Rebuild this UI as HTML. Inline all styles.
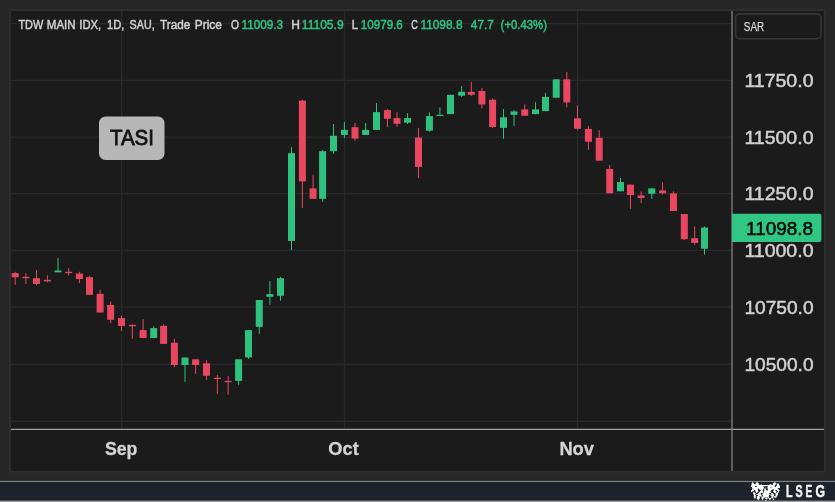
<!DOCTYPE html>
<html lang="en"><head><meta charset="utf-8"><title>TASI chart</title>
<style>
html,body{margin:0;padding:0;background:#262626;}
body{width:835px;height:502px;overflow:hidden;position:relative;font-family:"Liberation Sans",sans-serif;}
svg{position:absolute;left:0;top:0;display:block;}
text{font-family:"Liberation Sans",sans-serif;}
</style></head><body>
<svg width="835" height="502" viewBox="0 0 835 502">
<rect x="0" y="0" width="835" height="502" fill="#262626"/>
<rect x="9" y="9" width="816.9" height="463.8" fill="#2e2e2e"/>
<rect x="11" y="11" width="812.9" height="459.9" fill="#1b1b1b"/>
<rect x="11" y="22.90" width="721" height="1.4" fill="#28292d"/>
<rect x="11" y="79.70" width="721" height="1.4" fill="#28292d"/>
<rect x="11" y="136.50" width="721" height="1.4" fill="#28292d"/>
<rect x="11" y="192.90" width="721" height="1.4" fill="#28292d"/>
<rect x="11" y="249.70" width="721" height="1.4" fill="#28292d"/>
<rect x="11" y="306.30" width="721" height="1.4" fill="#28292d"/>
<rect x="11" y="363.60" width="721" height="1.4" fill="#28292d"/>
<rect x="11" y="420.60" width="721" height="1.4" fill="#28292d"/>
<rect x="120.90" y="11" width="1.4" height="418" fill="#28292d"/>
<rect x="343.80" y="11" width="1.4" height="418" fill="#28292d"/>
<rect x="576.80" y="11" width="1.4" height="418" fill="#28292d"/>
<rect x="14.70" y="271.80" width="1" height="13.10" fill="#e8475f"/>
<rect x="11.70" y="273.10" width="7" height="4.20" fill="#e8475f"/>
<rect x="25.40" y="273.10" width="1" height="10.90" fill="#e8475f"/>
<rect x="22.40" y="276.80" width="7" height="1.40" fill="#e8475f"/>
<rect x="36.00" y="270.10" width="1" height="15.10" fill="#e8475f"/>
<rect x="33.00" y="278.20" width="7" height="5.80" fill="#e8475f"/>
<rect x="46.90" y="275.20" width="1" height="7.00" fill="#e8475f"/>
<rect x="43.90" y="279.80" width="7" height="1.60" fill="#e8475f"/>
<rect x="57.50" y="257.90" width="1" height="14.40" fill="#2ec27e"/>
<rect x="54.50" y="270.50" width="7" height="1.80" fill="#2ec27e"/>
<rect x="68.20" y="268.10" width="1" height="7.40" fill="#e8475f"/>
<rect x="65.20" y="271.80" width="7" height="1.30" fill="#e8475f"/>
<rect x="78.90" y="271.80" width="1" height="11.20" fill="#e8475f"/>
<rect x="75.90" y="273.50" width="7" height="5.50" fill="#e8475f"/>
<rect x="89.00" y="276.00" width="1" height="18.80" fill="#e8475f"/>
<rect x="86.00" y="277.20" width="7" height="17.60" fill="#e8475f"/>
<rect x="99.60" y="289.90" width="1" height="22.60" fill="#e8475f"/>
<rect x="96.60" y="293.90" width="7" height="18.60" fill="#e8475f"/>
<rect x="110.15" y="301.60" width="1" height="21.50" fill="#e8475f"/>
<rect x="107.15" y="305.00" width="7" height="14.80" fill="#e8475f"/>
<rect x="121.00" y="315.90" width="1" height="15.00" fill="#e8475f"/>
<rect x="118.00" y="318.10" width="7" height="7.80" fill="#e8475f"/>
<rect x="131.80" y="324.30" width="1" height="14.50" fill="#e8475f"/>
<rect x="128.80" y="324.90" width="7" height="1.40" fill="#e8475f"/>
<rect x="142.60" y="319.20" width="1" height="18.80" fill="#e8475f"/>
<rect x="139.60" y="330.10" width="7" height="7.90" fill="#e8475f"/>
<rect x="153.20" y="326.30" width="1" height="11.70" fill="#2ec27e"/>
<rect x="150.20" y="328.10" width="7" height="9.90" fill="#2ec27e"/>
<rect x="163.10" y="324.30" width="1" height="19.60" fill="#e8475f"/>
<rect x="160.10" y="325.90" width="7" height="18.00" fill="#e8475f"/>
<rect x="173.90" y="338.80" width="1" height="28.20" fill="#e8475f"/>
<rect x="170.90" y="342.70" width="7" height="22.30" fill="#e8475f"/>
<rect x="184.50" y="357.50" width="1" height="24.30" fill="#2ec27e"/>
<rect x="181.50" y="357.50" width="7" height="7.50" fill="#2ec27e"/>
<rect x="195.15" y="359.30" width="1" height="14.70" fill="#e8475f"/>
<rect x="192.15" y="359.30" width="7" height="5.70" fill="#e8475f"/>
<rect x="205.95" y="360.10" width="1" height="19.80" fill="#e8475f"/>
<rect x="202.95" y="363.30" width="7" height="12.50" fill="#e8475f"/>
<rect x="216.85" y="375.00" width="1" height="18.80" fill="#e8475f"/>
<rect x="213.85" y="377.70" width="7" height="1.30" fill="#e8475f"/>
<rect x="227.60" y="376.10" width="1" height="18.50" fill="#e8475f"/>
<rect x="224.60" y="380.90" width="7" height="1.30" fill="#e8475f"/>
<rect x="238.10" y="359.30" width="1" height="25.50" fill="#2ec27e"/>
<rect x="235.10" y="359.30" width="7" height="21.60" fill="#2ec27e"/>
<rect x="247.95" y="330.10" width="1" height="28.80" fill="#2ec27e"/>
<rect x="244.95" y="330.10" width="7" height="27.30" fill="#2ec27e"/>
<rect x="258.75" y="300.00" width="1" height="33.80" fill="#2ec27e"/>
<rect x="255.75" y="300.00" width="7" height="26.90" fill="#2ec27e"/>
<rect x="269.40" y="281.00" width="1" height="23.80" fill="#2ec27e"/>
<rect x="266.40" y="294.10" width="7" height="2.70" fill="#2ec27e"/>
<rect x="280.00" y="276.80" width="1" height="24.00" fill="#2ec27e"/>
<rect x="277.00" y="278.20" width="7" height="17.60" fill="#2ec27e"/>
<rect x="291.00" y="147.30" width="1" height="102.70" fill="#2ec27e"/>
<rect x="288.00" y="153.20" width="7" height="87.70" fill="#2ec27e"/>
<rect x="301.90" y="99.60" width="1" height="108.50" fill="#e8475f"/>
<rect x="298.90" y="100.60" width="7" height="80.80" fill="#e8475f"/>
<rect x="312.60" y="174.70" width="1" height="24.10" fill="#e8475f"/>
<rect x="309.60" y="188.40" width="7" height="10.40" fill="#e8475f"/>
<rect x="322.10" y="150.00" width="1" height="51.90" fill="#2ec27e"/>
<rect x="319.10" y="151.20" width="7" height="47.60" fill="#2ec27e"/>
<rect x="333.00" y="124.00" width="1" height="29.70" fill="#2ec27e"/>
<rect x="330.00" y="135.80" width="7" height="15.40" fill="#2ec27e"/>
<rect x="343.90" y="121.90" width="1" height="16.20" fill="#2ec27e"/>
<rect x="340.90" y="129.90" width="7" height="5.00" fill="#2ec27e"/>
<rect x="354.50" y="123.00" width="1" height="17.80" fill="#e8475f"/>
<rect x="351.50" y="127.20" width="7" height="11.40" fill="#e8475f"/>
<rect x="365.10" y="123.00" width="1" height="11.90" fill="#2ec27e"/>
<rect x="362.10" y="129.90" width="7" height="5.00" fill="#2ec27e"/>
<rect x="376.00" y="103.10" width="1" height="26.80" fill="#2ec27e"/>
<rect x="373.00" y="112.10" width="7" height="17.80" fill="#2ec27e"/>
<rect x="386.90" y="108.90" width="1" height="18.30" fill="#e8475f"/>
<rect x="383.90" y="110.10" width="7" height="8.70" fill="#e8475f"/>
<rect x="396.50" y="112.30" width="1" height="14.50" fill="#e8475f"/>
<rect x="393.50" y="118.10" width="7" height="5.70" fill="#e8475f"/>
<rect x="407.05" y="113.20" width="1" height="10.80" fill="#2ec27e"/>
<rect x="404.05" y="118.10" width="7" height="4.65" fill="#2ec27e"/>
<rect x="418.00" y="128.00" width="1" height="50.20" fill="#e8475f"/>
<rect x="415.00" y="137.60" width="7" height="29.30" fill="#e8475f"/>
<rect x="428.90" y="112.30" width="1" height="19.40" fill="#2ec27e"/>
<rect x="425.90" y="116.10" width="7" height="14.60" fill="#2ec27e"/>
<rect x="439.40" y="107.30" width="1" height="8.70" fill="#2ec27e"/>
<rect x="436.40" y="114.80" width="7" height="1.20" fill="#2ec27e"/>
<rect x="450.00" y="94.80" width="1" height="19.30" fill="#2ec27e"/>
<rect x="447.00" y="94.80" width="7" height="19.30" fill="#2ec27e"/>
<rect x="461.10" y="86.00" width="1" height="10.90" fill="#2ec27e"/>
<rect x="458.10" y="91.80" width="7" height="3.90" fill="#2ec27e"/>
<rect x="470.80" y="81.80" width="1" height="14.20" fill="#e8475f"/>
<rect x="467.80" y="91.80" width="7" height="3.00" fill="#e8475f"/>
<rect x="481.40" y="88.10" width="1" height="20.50" fill="#e8475f"/>
<rect x="478.40" y="91.00" width="7" height="13.40" fill="#e8475f"/>
<rect x="492.10" y="98.50" width="1" height="29.40" fill="#e8475f"/>
<rect x="489.10" y="99.70" width="7" height="27.30" fill="#e8475f"/>
<rect x="503.00" y="109.10" width="1" height="29.70" fill="#2ec27e"/>
<rect x="500.00" y="117.30" width="7" height="10.60" fill="#2ec27e"/>
<rect x="513.50" y="109.90" width="1" height="16.00" fill="#2ec27e"/>
<rect x="510.50" y="111.40" width="7" height="3.40" fill="#2ec27e"/>
<rect x="524.25" y="104.40" width="1" height="11.40" fill="#e8475f"/>
<rect x="521.25" y="109.40" width="7" height="6.40" fill="#e8475f"/>
<rect x="535.00" y="102.20" width="1" height="11.90" fill="#2ec27e"/>
<rect x="532.00" y="109.40" width="7" height="4.70" fill="#2ec27e"/>
<rect x="545.00" y="92.70" width="1" height="18.40" fill="#2ec27e"/>
<rect x="542.00" y="96.90" width="7" height="14.20" fill="#2ec27e"/>
<rect x="555.70" y="79.30" width="1" height="18.40" fill="#2ec27e"/>
<rect x="552.70" y="79.30" width="7" height="18.40" fill="#2ec27e"/>
<rect x="566.30" y="72.00" width="1" height="35.40" fill="#e8475f"/>
<rect x="563.30" y="79.30" width="7" height="23.10" fill="#e8475f"/>
<rect x="577.00" y="105.20" width="1" height="24.60" fill="#e8475f"/>
<rect x="574.00" y="118.30" width="7" height="10.50" fill="#e8475f"/>
<rect x="587.90" y="126.00" width="1" height="23.70" fill="#e8475f"/>
<rect x="584.90" y="128.90" width="7" height="12.80" fill="#e8475f"/>
<rect x="598.70" y="130.10" width="1" height="30.60" fill="#e8475f"/>
<rect x="595.70" y="137.90" width="7" height="22.80" fill="#e8475f"/>
<rect x="609.20" y="164.90" width="1" height="28.40" fill="#e8475f"/>
<rect x="606.20" y="169.00" width="7" height="24.30" fill="#e8475f"/>
<rect x="620.00" y="177.80" width="1" height="13.50" fill="#2ec27e"/>
<rect x="617.00" y="182.00" width="7" height="9.30" fill="#2ec27e"/>
<rect x="629.95" y="184.65" width="1" height="24.15" fill="#e8475f"/>
<rect x="626.95" y="184.65" width="7" height="10.45" fill="#e8475f"/>
<rect x="640.60" y="191.35" width="1" height="11.65" fill="#e8475f"/>
<rect x="637.60" y="195.45" width="7" height="2.50" fill="#e8475f"/>
<rect x="651.30" y="188.40" width="1" height="10.45" fill="#2ec27e"/>
<rect x="648.30" y="188.40" width="7" height="5.45" fill="#2ec27e"/>
<rect x="662.05" y="182.30" width="1" height="12.00" fill="#e8475f"/>
<rect x="659.05" y="190.40" width="7" height="2.80" fill="#e8475f"/>
<rect x="672.95" y="191.35" width="1" height="19.65" fill="#e8475f"/>
<rect x="669.95" y="193.35" width="7" height="17.65" fill="#e8475f"/>
<rect x="683.80" y="214.00" width="1" height="25.90" fill="#e8475f"/>
<rect x="680.80" y="214.00" width="7" height="25.20" fill="#e8475f"/>
<rect x="694.20" y="226.40" width="1" height="18.50" fill="#e8475f"/>
<rect x="691.20" y="238.20" width="7" height="4.70" fill="#e8475f"/>
<rect x="704.00" y="226.40" width="1" height="28.20" fill="#2ec27e"/>
<rect x="701.00" y="227.50" width="7" height="21.20" fill="#2ec27e"/>
<rect x="11" y="428.8" width="812.9" height="1.1" fill="#b4b4b4"/>
<rect x="731.4" y="11" width="1.2" height="459.9" fill="#8c8c8c"/>
<rect x="735.6" y="13.9" width="85.4" height="24.8" rx="4" ry="4" fill="#1b1b1b" stroke="#363636" stroke-width="1.6"/>
<text x="743.83" y="31.3" font-size="12.5" fill="#d8d8d8" stroke="#d8d8d8" stroke-width="0.25" textLength="20.37" lengthAdjust="spacingAndGlyphs">SAR</text>
<text x="744.42" y="87.1" font-size="19" fill="#d2d2d2" stroke="#d2d2d2" stroke-width="0.5" textLength="69.11" lengthAdjust="spacingAndGlyphs">11750.0</text>
<text x="744.42" y="143.9" font-size="19" fill="#d2d2d2" stroke="#d2d2d2" stroke-width="0.5" textLength="69.11" lengthAdjust="spacingAndGlyphs">11500.0</text>
<text x="744.42" y="200.3" font-size="19" fill="#d2d2d2" stroke="#d2d2d2" stroke-width="0.5" textLength="69.11" lengthAdjust="spacingAndGlyphs">11250.0</text>
<text x="744.42" y="257.1" font-size="19" fill="#d2d2d2" stroke="#d2d2d2" stroke-width="0.5" textLength="69.11" lengthAdjust="spacingAndGlyphs">11000.0</text>
<text x="744.44" y="313.7" font-size="19" fill="#d2d2d2" stroke="#d2d2d2" stroke-width="0.5" textLength="69.08" lengthAdjust="spacingAndGlyphs">10750.0</text>
<text x="744.44" y="371.0" font-size="19" fill="#d2d2d2" stroke="#d2d2d2" stroke-width="0.5" textLength="69.08" lengthAdjust="spacingAndGlyphs">10500.0</text>
<path d="M732 213.8 H819.4 Q821.4 213.8 821.4 215.8 V240 Q821.4 242 819.4 242 H732 Z" fill="#30c684"/>
<text x="746.12" y="235.2" font-size="18.4" fill="#0a0a0a" stroke="#0a0a0a" stroke-width="0.5" textLength="67.06" lengthAdjust="spacingAndGlyphs">11098.8</text>
<text x="104.95" y="455.1" font-size="19.0" font-weight="bold" fill="#d4d4d4" stroke="#d4d4d4" stroke-width="0.3" textLength="32.46" lengthAdjust="spacingAndGlyphs">Sep</text>
<text x="328.35" y="455.1" font-size="19.0" font-weight="bold" fill="#d4d4d4" stroke="#d4d4d4" stroke-width="0.3" textLength="30.36" lengthAdjust="spacingAndGlyphs">Oct</text>
<text x="559.38" y="455.1" font-size="19.0" font-weight="bold" fill="#d4d4d4" stroke="#d4d4d4" stroke-width="0.3" textLength="34.65" lengthAdjust="spacingAndGlyphs">Nov</text>
<rect x="99" y="116.6" width="65.5" height="43.4" rx="6.5" ry="6.5" fill="#bdbdbd" fill-opacity="0.97"/>
<text x="109.90" y="145.3" font-size="22.5" fill="#111111" stroke="#111111" stroke-width="0.8" textLength="44.14" lengthAdjust="spacingAndGlyphs">TASI</text>
<text x="18.43" y="28.8" font-size="12.3" fill="#d2d2d2" stroke="#d2d2d2" stroke-width="0.45" textLength="24.80" lengthAdjust="spacingAndGlyphs">TDW</text>
<text x="46.79" y="28.8" font-size="12.3" fill="#d2d2d2" stroke="#d2d2d2" stroke-width="0.45" textLength="28.81" lengthAdjust="spacingAndGlyphs">MAIN</text>
<text x="79.31" y="28.8" font-size="12.3" fill="#d2d2d2" stroke="#d2d2d2" stroke-width="0.45" textLength="21.95" lengthAdjust="spacingAndGlyphs">IDX,</text>
<text x="107.02" y="28.8" font-size="12.3" fill="#d2d2d2" stroke="#d2d2d2" stroke-width="0.45" textLength="17.33" lengthAdjust="spacingAndGlyphs">1D,</text>
<text x="129.62" y="28.8" font-size="12.3" fill="#d2d2d2" stroke="#d2d2d2" stroke-width="0.45" textLength="25.01" lengthAdjust="spacingAndGlyphs">SAU,</text>
<text x="160.03" y="28.8" font-size="12.3" fill="#d2d2d2" stroke="#d2d2d2" stroke-width="0.45" textLength="30.20" lengthAdjust="spacingAndGlyphs">Trade</text>
<text x="194.76" y="28.8" font-size="12.3" fill="#d2d2d2" stroke="#d2d2d2" stroke-width="0.45" textLength="27.16" lengthAdjust="spacingAndGlyphs">Price</text>
<text x="230.92" y="28.8" font-size="12.3" fill="#d2d2d2" stroke="#d2d2d2" stroke-width="0.45" textLength="8.02" lengthAdjust="spacingAndGlyphs">O</text>
<text x="241.53" y="28.8" font-size="12.3" fill="#2fc481" stroke="#2fc481" stroke-width="0.45" textLength="41.60" lengthAdjust="spacingAndGlyphs">11009.3</text>
<text x="291.25" y="28.8" font-size="12.3" fill="#d2d2d2" stroke="#d2d2d2" stroke-width="0.45" textLength="8.69" lengthAdjust="spacingAndGlyphs">H</text>
<text x="301.83" y="28.8" font-size="12.3" fill="#2fc481" stroke="#2fc481" stroke-width="0.45" textLength="41.79" lengthAdjust="spacingAndGlyphs">11105.9</text>
<text x="351.70" y="28.8" font-size="12.3" fill="#d2d2d2" stroke="#d2d2d2" stroke-width="0.45" textLength="6.33" lengthAdjust="spacingAndGlyphs">L</text>
<text x="360.73" y="28.8" font-size="12.3" fill="#2fc481" stroke="#2fc481" stroke-width="0.45" textLength="42.10" lengthAdjust="spacingAndGlyphs">10979.6</text>
<text x="411.23" y="28.8" font-size="12.3" fill="#d2d2d2" stroke="#d2d2d2" stroke-width="0.45" textLength="6.56" lengthAdjust="spacingAndGlyphs">C</text>
<text x="420.43" y="28.8" font-size="12.3" fill="#2fc481" stroke="#2fc481" stroke-width="0.45" textLength="42.09" lengthAdjust="spacingAndGlyphs">11098.8</text>
<text x="470.83" y="28.8" font-size="12.3" fill="#2fc481" stroke="#2fc481" stroke-width="0.45" textLength="23.09" lengthAdjust="spacingAndGlyphs">47.7</text>
<text x="500.62" y="28.8" font-size="12.3" fill="#2fc481" stroke="#2fc481" stroke-width="0.45" textLength="46.34" lengthAdjust="spacingAndGlyphs">(+0.43%)</text>
<rect x="0" y="480.9" width="835" height="1.1" fill="#9a9da5"/>
<rect x="0" y="481.8" width="835" height="19" fill="#1e222d"/>
<rect x="0" y="500.6" width="835" height="1.4" fill="#9a9a9a"/>
<text x="785.88" y="496.8" font-size="16.1" font-weight="bold" fill="#f6f6f6" stroke="#f6f6f6" stroke-width="0.5" textLength="6.55" lengthAdjust="spacingAndGlyphs">L</text>
<text x="795.55" y="496.8" font-size="16.1" font-weight="bold" fill="#f6f6f6" stroke="#f6f6f6" stroke-width="0.5" textLength="7.12" lengthAdjust="spacingAndGlyphs">S</text>
<text x="805.62" y="496.8" font-size="16.1" font-weight="bold" fill="#f6f6f6" stroke="#f6f6f6" stroke-width="0.5" textLength="6.76" lengthAdjust="spacingAndGlyphs">E</text>
<text x="815.45" y="496.8" font-size="16.1" font-weight="bold" fill="#f6f6f6" stroke="#f6f6f6" stroke-width="0.5" textLength="9.49" lengthAdjust="spacingAndGlyphs">G</text>
<g fill="#ffffff">
<rect x="751.99" y="482" width="1.20" height="1.02" fill-opacity="0.7"/>
<rect x="755.98" y="482" width="1.99" height="1.02" fill-opacity="0.7"/>
<rect x="773.90" y="482" width="1.59" height="1.02" fill-opacity="0.7"/>
<rect x="751.59" y="483" width="2.39" height="1.02" fill-opacity="0.9"/>
<rect x="755.58" y="483" width="3.19" height="1.02" fill-opacity="0.9"/>
<rect x="773.11" y="483" width="3.19" height="1.02" fill-opacity="0.9"/>
<rect x="777.09" y="483" width="1.59" height="1.02" fill-opacity="0.5"/>
<rect x="751.59" y="484" width="7.57" height="1.02" fill-opacity="0.95"/>
<rect x="760.76" y="484" width="1.20" height="1.02" fill-opacity="0.6"/>
<rect x="769.52" y="484" width="1.99" height="1.02" fill-opacity="0.7"/>
<rect x="772.71" y="484" width="2.79" height="1.02" fill-opacity="1"/>
<rect x="776.69" y="484" width="2.39" height="1.02" fill-opacity="1"/>
<rect x="751.20" y="485" width="23.90" height="1.02" fill-opacity="1"/>
<rect x="776.69" y="485" width="2.79" height="1.02" fill-opacity="1"/>
<rect x="750.80" y="486" width="4.38" height="1.02" fill-opacity="1"/>
<rect x="756.77" y="486" width="6.77" height="1.02" fill-opacity="1"/>
<rect x="767.93" y="486" width="6.77" height="1.02" fill-opacity="1"/>
<rect x="775.90" y="486" width="3.98" height="1.02" fill-opacity="1"/>
<rect x="763.55" y="486" width="4.38" height="1.02" fill-opacity="0.25"/>
<rect x="751.99" y="487" width="11.75" height="1.02" fill-opacity="1"/>
<rect x="767.53" y="487" width="2.79" height="1.02" fill-opacity="1"/>
<rect x="770.32" y="487" width="1.20" height="1.02" fill-opacity="0.6"/>
<rect x="771.51" y="487" width="8.37" height="1.02" fill-opacity="1"/>
<rect x="763.75" y="487" width="3.78" height="1.02" fill-opacity="0.15"/>
<rect x="752.39" y="488" width="5.58" height="1.02" fill-opacity="1"/>
<rect x="757.97" y="488" width="1.00" height="1.02" fill-opacity="0.6"/>
<rect x="758.96" y="488" width="4.18" height="1.02" fill-opacity="1"/>
<rect x="763.15" y="488" width="2.79" height="1.02" fill-opacity="0.55"/>
<rect x="767.53" y="488" width="10.36" height="1.02" fill-opacity="1"/>
<rect x="751.99" y="489" width="1.59" height="1.02" fill-opacity="1"/>
<rect x="753.98" y="489" width="3.98" height="1.02" fill-opacity="1"/>
<rect x="759.56" y="489" width="3.59" height="1.02" fill-opacity="1"/>
<rect x="764.34" y="489" width="1.59" height="1.02" fill-opacity="1"/>
<rect x="767.93" y="489" width="4.38" height="1.02" fill-opacity="1"/>
<rect x="773.90" y="489" width="4.78" height="1.02" fill-opacity="1"/>
<rect x="772.31" y="489" width="1.59" height="1.02" fill-opacity="0.3"/>
<rect x="751.20" y="490" width="2.79" height="1.02" fill-opacity="1"/>
<rect x="755.18" y="490" width="2.79" height="1.02" fill-opacity="1"/>
<rect x="760.76" y="490" width="1.99" height="1.02" fill-opacity="1"/>
<rect x="763.94" y="490" width="3.98" height="1.02" fill-opacity="0.8"/>
<rect x="767.93" y="490" width="3.19" height="1.02" fill-opacity="1"/>
<rect x="773.51" y="490" width="1.99" height="1.02" fill-opacity="1"/>
<rect x="776.69" y="490" width="2.79" height="1.02" fill-opacity="1"/>
<rect x="751.00" y="491" width="1.39" height="1.02" fill-opacity="1"/>
<rect x="755.58" y="491" width="2.79" height="1.02" fill-opacity="1"/>
<rect x="759.96" y="491" width="3.19" height="1.02" fill-opacity="1"/>
<rect x="763.94" y="491" width="6.77" height="1.02" fill-opacity="1"/>
<rect x="773.11" y="491" width="3.19" height="1.02" fill-opacity="1"/>
<rect x="777.89" y="491" width="1.20" height="1.02" fill-opacity="0.9"/>
<rect x="753.19" y="492" width="1.59" height="1.02" fill-opacity="0.9"/>
<rect x="755.98" y="492" width="1.20" height="1.02" fill-opacity="1"/>
<rect x="759.16" y="492" width="3.59" height="1.02" fill-opacity="1"/>
<rect x="762.75" y="492" width="1.20" height="1.02" fill-opacity="0.5"/>
<rect x="763.94" y="492" width="7.17" height="1.02" fill-opacity="1"/>
<rect x="773.90" y="492" width="2.39" height="1.02" fill-opacity="1"/>
<rect x="777.09" y="492" width="1.59" height="1.02" fill-opacity="0.8"/>
<rect x="753.19" y="493" width="2.39" height="1.02" fill-opacity="1"/>
<rect x="757.97" y="493" width="2.79" height="1.02" fill-opacity="1"/>
<rect x="762.75" y="493" width="6.37" height="1.02" fill-opacity="1"/>
<rect x="771.12" y="493" width="1.99" height="1.02" fill-opacity="1"/>
<rect x="775.50" y="493" width="2.39" height="1.02" fill-opacity="1"/>
<rect x="753.59" y="494" width="1.59" height="1.02" fill-opacity="1"/>
<rect x="756.37" y="494" width="4.78" height="1.02" fill-opacity="0.85"/>
<rect x="762.35" y="494" width="7.17" height="1.02" fill-opacity="1"/>
<rect x="769.52" y="494" width="2.79" height="1.02" fill-opacity="0.5"/>
<rect x="772.31" y="494" width="1.59" height="1.02" fill-opacity="1"/>
<rect x="775.50" y="494" width="2.39" height="1.02" fill-opacity="1"/>
<rect x="753.98" y="495" width="1.99" height="1.02" fill-opacity="1"/>
<rect x="757.97" y="495" width="3.59" height="1.02" fill-opacity="1"/>
<rect x="762.75" y="495" width="6.37" height="1.02" fill-opacity="1"/>
<rect x="770.72" y="495" width="3.19" height="1.02" fill-opacity="1"/>
<rect x="775.50" y="495" width="1.99" height="1.02" fill-opacity="0.9"/>
<rect x="753.59" y="496" width="1.99" height="1.02" fill-opacity="0.9"/>
<rect x="756.77" y="496" width="2.39" height="1.02" fill-opacity="1"/>
<rect x="759.16" y="496" width="3.98" height="1.02" fill-opacity="0.55"/>
<rect x="763.15" y="496" width="5.58" height="1.02" fill-opacity="1"/>
<rect x="771.51" y="496" width="1.99" height="1.02" fill-opacity="1"/>
<rect x="773.90" y="496" width="3.19" height="1.02" fill-opacity="0.8"/>
<rect x="753.98" y="497" width="1.99" height="1.02" fill-opacity="0.9"/>
<rect x="757.17" y="497" width="2.79" height="1.02" fill-opacity="1"/>
<rect x="761.55" y="497" width="2.39" height="1.02" fill-opacity="1"/>
<rect x="763.94" y="497" width="3.59" height="1.02" fill-opacity="0.6"/>
<rect x="767.53" y="497" width="1.59" height="1.02" fill-opacity="1"/>
<rect x="771.12" y="497" width="1.99" height="1.02" fill-opacity="1"/>
<rect x="774.30" y="497" width="1.99" height="1.02" fill-opacity="0.8"/>
<rect x="754.38" y="498" width="1.20" height="1.02" fill-opacity="0.5"/>
<rect x="756.77" y="498" width="2.79" height="1.02" fill-opacity="0.95"/>
<rect x="761.55" y="498" width="1.99" height="1.02" fill-opacity="0.95"/>
<rect x="765.14" y="498" width="2.39" height="1.02" fill-opacity="0.9"/>
<rect x="768.73" y="498" width="2.39" height="1.02" fill-opacity="0.95"/>
<rect x="772.31" y="498" width="1.59" height="1.02" fill-opacity="0.5"/>
<rect x="757.57" y="499" width="1.59" height="1.02" fill-opacity="0.9"/>
<rect x="761.95" y="499" width="1.20" height="1.02" fill-opacity="0.8"/>
<rect x="765.94" y="499" width="1.20" height="1.02" fill-opacity="0.5"/>
<rect x="769.12" y="499" width="1.59" height="1.02" fill-opacity="0.8"/>
<rect x="772.91" y="499" width="1.20" height="1.02" fill-opacity="0.9"/>
<rect x="764.74" y="500" width="1.99" height="1.02" fill-opacity="0.45"/>
</g>
</svg></body></html>
